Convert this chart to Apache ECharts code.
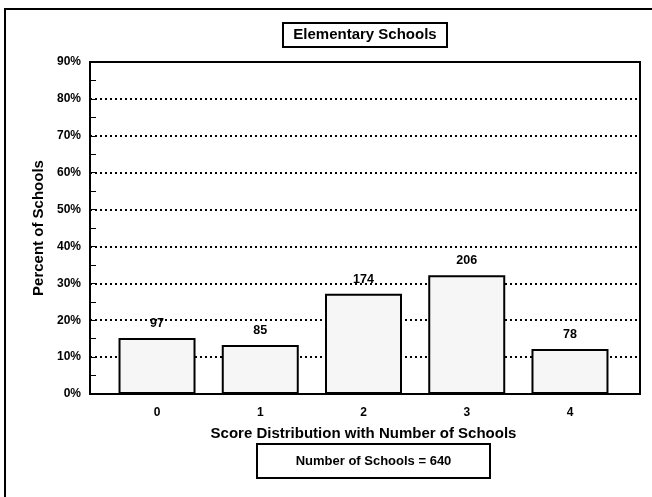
<!DOCTYPE html>
<html>
<head>
<meta charset="utf-8">
<script src="https://cdn.jsdelivr.net/npm/echarts@6/dist/echarts.min.js"></script>
<style>
html,body{margin:0;padding:0;background:#fff;}
#chart{width:652px;height:497px;}
</style>
</head>
<body>
<div id="chart"></div>
<script>
var categories = ['0', '1', '2', '3', '4'];
var schoolCounts = [97, 85, 174, 206, 78];
var totalSchools = 640;
var yTickLabels = ['0%', '10%', '20%', '30%', '40%', '50%', '60%', '70%', '80%', '90%'];
var chartTitle = 'Elementary Schools';
var xTitle = 'Score Distribution with Number of Schools';
var yTitle = 'Percent of Schools';
var footnote = 'Number of Schools = ' + totalSchools;

var percents = schoolCounts.map(function (c) { return c / totalSchools * 100; });

var FONT = '"Liberation Sans", Arial, sans-serif';
var chart = echarts.init(document.getElementById('chart'), null, {renderer: 'canvas'});

var option = {
  animation: false,
  backgroundColor: '#ffffff',
  grid: [
    {left: 90, right: 12, top: 62, bottom: 103, show: true, borderColor: '#000', borderWidth: 2, backgroundColor: 'transparent'},
    {left: 105.4, right: 30.4, top: 62, bottom: 103}
  ],
  xAxis: [
    {gridIndex: 0, type: 'value', min: 0, max: 1, show: false},
    {
      gridIndex: 1, type: 'category', data: categories,
      axisLine: {show: false}, axisTick: {show: false},
      axisLabel: {margin: 13, color: '#000', fontFamily: FONT, fontWeight: 'bold', fontSize: 12},
      name: xTitle, nameLocation: 'middle', nameGap: 32,
      nameTextStyle: {color: '#000', fontFamily: FONT, fontWeight: 'bold', fontSize: 15}
    }
  ],
  yAxis: [
    {
      gridIndex: 0, type: 'value', min: 0, max: 90, interval: 10,
      axisLine: {show: true, lineStyle: {color: '#000', width: 2}},
      axisTick: {show: true, inside: true, length: 6, lineStyle: {color: '#000', width: 1}},
      minorTick: {show: true, splitNumber: 2, length: 6, lineStyle: {color: '#000', width: 1}},
      axisLabel: {
        margin: 9, color: '#000', fontFamily: FONT, fontWeight: 'bold', fontSize: 12,
        formatter: function (v) { return yTickLabels[Math.round(v / 10)]; }
      },
      splitLine: {show: true, lineStyle: {color: '#000', width: 2, type: [2, 3]}},
      name: yTitle, nameLocation: 'middle', nameGap: 43, nameRotate: 90,
      nameTextStyle: {color: '#000', fontFamily: FONT, fontWeight: 'bold', fontSize: 15}
    },
    {gridIndex: 1, type: 'value', min: 0, max: 90, show: false}
  ],
  series: [{
    type: 'bar', xAxisIndex: 1, yAxisIndex: 1,
    data: percents,
    barWidth: 77,
    itemStyle: {color: '#f6f6f6', borderColor: '#000', borderWidth: 2},
    label: {
      show: true, position: 'top', distance: 8,
      color: '#000', fontFamily: FONT, fontWeight: 'bold', fontSize: 12.5,
      formatter: function (p) { return String(schoolCounts[p.dataIndex]); }
    }
  }],
  graphic: [
    {type: 'rect', shape: {x: 5, y: 9, width: 700, height: 560}, style: {fill: 'none', stroke: '#000', lineWidth: 2}, z: 100},
    {type: 'rect', shape: {x: 283, y: 23, width: 164, height: 24}, style: {fill: '#fff', stroke: '#000', lineWidth: 2}, z: 100},
    {type: 'text', x: 365, y: 35, style: {text: chartTitle, fill: '#000', font: 'bold 15px ' + FONT, textAlign: 'center', textVerticalAlign: 'middle'}, z: 101},
    {type: 'rect', shape: {x: 257, y: 444, width: 233, height: 34}, style: {fill: '#fff', stroke: '#000', lineWidth: 2}, z: 100},
    {type: 'text', x: 373.5, y: 461, style: {text: footnote, fill: '#000', font: 'bold 13px ' + FONT, textAlign: 'center', textVerticalAlign: 'middle'}, z: 101}
  ]
};
chart.setOption(option);
</script>
</body>
</html>
